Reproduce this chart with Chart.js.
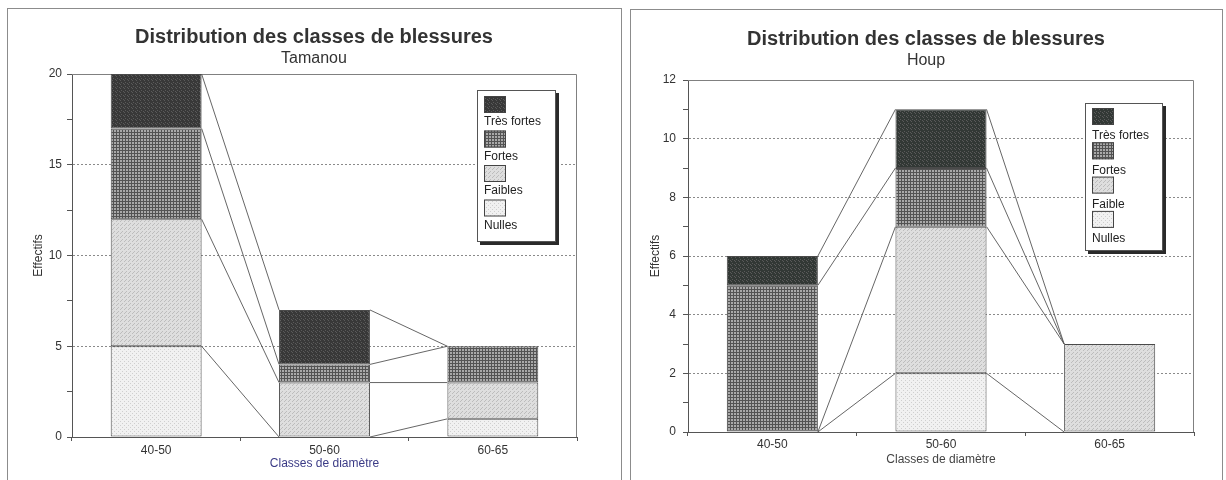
<!DOCTYPE html>
<html>
<head>
<meta charset="utf-8">
<script src="https://cdn.jsdelivr.net/npm/chart.js@4.4.0/dist/chart.umd.min.js"></script>
<style>
  body { margin: 0; background: #fff; width: 1226px; height: 480px; overflow: hidden; position: relative; }
  .panel { position: absolute; border: 1px solid #8c8c8c; border-bottom: none; }
  #p1 { left: 7px; top: 8px; width: 613px; height: 480px; }
  #p2 { left: 630px; top: 9px; width: 591px; height: 480px; }
  canvas { position: absolute; }
  #tamanou { left: 8px; top: 9px; }
  #houp { left: 631px; top: 10px; }
</style>
</head>
<body>
<div class="panel" id="p1"></div>
<div class="panel" id="p2"></div>
<canvas id="tamanou" width="612" height="471"></canvas>
<canvas id="houp" width="590" height="470"></canvas>
<script>
const FONT = "'Liberation Sans', Arial, sans-serif";

// classes de diamètre
const categories = ['40-50', '50-60', '60-65'];

// Tamanou
const tamanouLabels = ['Nulles', 'Faibles', 'Fortes', 'Très fortes'];
const tamanouNulles = [5, 0, 1];
const tamanouFaibles = [7, 3, 2];
const tamanouFortes = [5, 1, 2];
const tamanouTresFortes = [3, 3, 0];
const tamanouYTicks = [0, 5, 10, 15, 20];

// Houp
const houpLabels = ['Nulles', 'Faible', 'Fortes', 'Très fortes'];
const houpNulles = [0, 2, 0];
const houpFaibles = [0, 5, 3];
const houpFortes = [5, 2, 0];
const houpTresFortes = [1, 2, 0];
const houpYTicks = [0, 2, 4, 6, 8, 10, 12];

// petites trames pour imiter les motifs de remplissage
function trame(size, bg, fg, dots) {
  const c = document.createElement('canvas');
  c.width = size; c.height = size;
  const g = c.getContext('2d');
  g.fillStyle = bg; g.fillRect(0, 0, size, size);
  g.fillStyle = fg;
  dots.forEach(([x, y]) => g.fillRect(x, y, 1, 1));
  return g.createPattern(c, 'repeat');
}
function quadrillage(bg, fg) {
  const c = document.createElement('canvas');
  c.width = 3; c.height = 3;
  const g = c.getContext('2d');
  g.fillStyle = bg; g.fillRect(0, 0, 3, 3);
  g.fillStyle = fg; g.fillRect(0, 0, 3, 1); g.fillRect(0, 0, 1, 3);
  return g.createPattern(c, 'repeat');
}
function remplissages(fonce) {
  return [
    trame(4, '#f1f1f1', '#cfcfcf', [[0, 0], [2, 2]]),
    trame(4, '#dedede', '#bcbcbc', [[0, 0], [2, 2], [1, 3]]),
    quadrillage('#a9a9a9', '#535353'),
    trame(4, fonce, '#5a5a5a', [[1, 1], [3, 2], [0, 3]])
  ];
}

// lignes de séries entre les barres empilées
const seriesLines = {
  id: 'seriesLines',
  afterDatasetsDraw(chart) {
    const ctx = chart.ctx;
    ctx.save();
    ctx.strokeStyle = '#555';
    ctx.lineWidth = 0.9;
    chart.data.datasets.forEach((ds, d) => {
      const bars = chart.getDatasetMeta(d).data;
      for (let i = 0; i < bars.length - 1; i++) {
        const a = bars[i], b = bars[i + 1];
        ctx.beginPath();
        ctx.moveTo(a.x + a.width / 2, a.y);
        ctx.lineTo(b.x - b.width / 2, b.y);
        ctx.stroke();
      }
    });
    ctx.restore();
  }
};

// cadre haut et droit de la zone de tracé
const plotFrame = {
  id: 'plotFrame',
  beforeDatasetsDraw(chart) {
    const {ctx, chartArea: a} = chart;
    ctx.save();
    ctx.strokeStyle = '#808080';
    ctx.lineWidth = 1;
    ctx.beginPath();
    ctx.moveTo(a.left, a.top + 0.5);
    ctx.lineTo(a.right - 0.5, a.top + 0.5);
    ctx.lineTo(a.right - 0.5, a.bottom);
    ctx.stroke();
    ctx.restore();
  }
};

// légende en colonne : case puis libellé en dessous
const boxLegend = {
  id: 'boxLegend',
  afterDraw(chart, args, o) {
    const ctx = chart.ctx;
    ctx.save();
    ctx.fillStyle = '#2a2a2a';
    ctx.fillRect(o.left + 3, o.top + 3, o.width, o.height);
    ctx.fillStyle = '#fff';
    ctx.fillRect(o.left, o.top, o.width, o.height);
    ctx.strokeStyle = '#555';
    ctx.lineWidth = 1;
    ctx.strokeRect(o.left + 0.5, o.top + 0.5, o.width - 1, o.height - 1);
    const ds = chart.data.datasets.slice().reverse();
    ctx.font = '12px ' + FONT;
    ctx.textBaseline = 'middle';
    ds.forEach((d, k) => {
      const y = o.top + o.swatchTop + k * o.step;
      ctx.fillStyle = d.backgroundColor;
      ctx.fillRect(o.left + 7, y, 22, 17);
      ctx.strokeStyle = '#444';
      ctx.strokeRect(o.left + 7.5, y + 0.5, 21, 16);
      ctx.fillStyle = '#222';
      ctx.fillText(d.label, o.left + 7, o.top + o.textTop + k * o.step);
    });
    ctx.restore();
  }
};

function blessuresChart(id, o) {
  const fills = remplissages(o.fonce);
  const datasets = o.series.map((vals, i) => ({
    label: o.labels[i],
    data: vals,
    backgroundColor: fills[i],
    borderColor: '#4a4a4a',
    borderWidth: 1,
    borderSkipped: false,
    barPercentage: 0.54,
    categoryPercentage: 1
  }));
  const yMax = o.yTicks[o.yTicks.length - 1];
  return new Chart(document.getElementById(id), {
    type: 'bar',
    data: { labels: categories, datasets },
    options: {
      responsive: false,
      animation: false,
      events: [],
      layout: { padding: 0 },
      plugins: {
        legend: { display: false },
        tooltip: { enabled: false },
        title: {
          display: true,
          text: 'Distribution des classes de blessures',
          color: '#333',
          font: { family: FONT, size: 20, weight: 'bold' },
          padding: { top: o.titleTop, bottom: o.titleBottom }
        },
        subtitle: {
          display: true,
          text: o.name,
          color: '#333',
          font: { family: FONT, size: 16 },
          padding: { top: 0, bottom: o.subBottom }
        },
        boxLegend: o.legend
      },
      scales: {
        x: {
          stacked: true,
          grid: { offset: true, drawOnChartArea: false, tickLength: 4, color: '#555', tickColor: '#555' },
          border: { color: '#555' },
          ticks: { color: '#333', font: { family: FONT, size: 12 }, padding: o.xTickPad },
          title: {
            display: true,
            text: 'Classes de diamètre',
            color: o.xTitleColor,
            font: { family: FONT, size: 12 },
            padding: { top: 0, bottom: o.xTitleBottom }
          },
          afterFit(s) { s.height = o.xHeight; }
        },
        y: {
          stacked: true,
          min: 0,
          max: yMax,
          ticks: {
            stepSize: o.minorStep,
            color: '#333',
            font: { family: FONT, size: 12 },
            padding: o.yTickPad,
            callback: v => o.yTicks.includes(v) ? v : ''
          },
          grid: {
            color: c => (c.tick && o.yTicks.includes(c.tick.value) && c.tick.value > 0 && c.tick.value < yMax) ? '#8a8a8a' : 'rgba(0,0,0,0)',
            tickColor: '#555',
            tickLength: 5
          },
          border: { color: '#555', dash: [2, 2] },
          title: {
            display: true,
            text: 'Effectifs',
            color: '#333',
            font: { family: FONT, size: 12 },
            padding: { top: o.yTitlePad, bottom: 0 }
          },
          afterFit(s) { s.width = o.yWidth; }
        },
        // marge à droite de la zone de tracé (titres centrés sur tout le cadre)
        marge: {
          position: 'right',
          grid: { display: false },
          border: { display: false },
          ticks: { display: false },
          afterFit(s) { s.width = o.padRight; }
        }
      }
    },
    plugins: [plotFrame, seriesLines, boxLegend]
  });
}

blessuresChart('tamanou', {
  name: 'Tamanou',
  labels: tamanouLabels,
  series: [tamanouNulles, tamanouFaibles, tamanouFortes, tamanouTresFortes],
  yTicks: tamanouYTicks,
  minorStep: 2.5,
  fonce: '#383838',
  padRight: 43,
  titleTop: 16, titleBottom: 0.4, subBottom: 5.4,
  xHeight: 43, xTickPad: 2.5, xTitleBottom: 8.8, xTitleColor: '#3b3b86',
  yWidth: 64, yTickPad: 5, yTitlePad: 23.8,
  legend: { left: 469, top: 81, width: 79, height: 152, swatchTop: 6, textTop: 32, step: 34.5 }
});

blessuresChart('houp', {
  name: 'Houp',
  labels: houpLabels,
  series: [houpNulles, houpFaibles, houpFortes, houpTresFortes],
  yTicks: houpYTicks,
  minorStep: 1,
  fonce: '#323835',
  padRight: 27,
  titleTop: 17, titleBottom: 0.4, subBottom: 9.4,
  xHeight: 48, xTickPad: 1.8, xTitleBottom: 12.8, xTitleColor: '#444',
  yWidth: 57, yTickPad: 7, yTitlePad: 17.8,
  legend: { left: 454, top: 93, width: 78, height: 148, swatchTop: 5, textTop: 33, step: 34.3 }
});
</script>
</body>
</html>
